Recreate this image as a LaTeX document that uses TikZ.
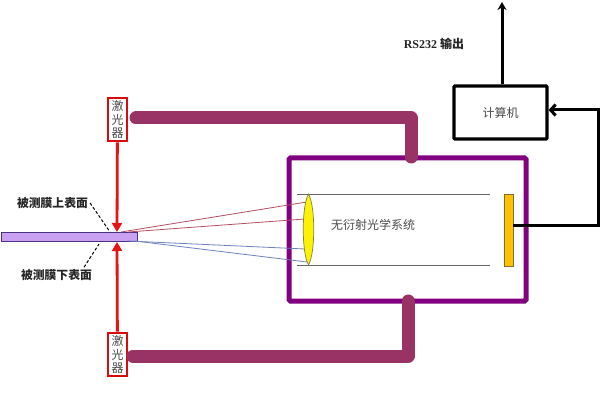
\documentclass[tikz,border=0pt]{standalone}
\usepackage{fontspec}
\setmainfont{Liberation Serif}
\newfontfamily\cjk{Noto Sans CJK SC}
\usetikzlibrary{arrows.meta}
\definecolor{tube}{HTML}{993366}
\definecolor{frameC}{HTML}{800080}
\definecolor{filmC}{HTML}{C9A0F2}
\definecolor{detC}{HTML}{FFC000}
\definecolor{lab}{HTML}{4A4A4A}
\tikzset{
  x=1pt,y=-1pt,
  laserbox/.style={draw={rgb,255:red,220;green,10;blue,10},line width=2.6pt,fill=white,minimum width=19pt,minimum height=43pt,inner sep=0pt,align=center,text=lab,font=\cjk\fontsize{12}{13.5}\selectfont},
  beam/.style={draw={rgb,255:red,230;green,20;blue,20},line width=2.8pt,-{Triangle[length=9pt,width=10pt]}},
  tubeline/.style={draw=tube,line width=13pt,line cap=round,line join=round},
  redray/.style={draw={rgb,255:red,180;green,80;blue,100},line width=0.8pt},
  blueray/.style={draw={rgb,255:red,110;green,130;blue,190},line width=0.8pt},
  wire/.style={draw=black,line width=3pt},
  lbl/.style={font=\cjk\bfseries\fontsize{11.8}{13}\selectfont,inner sep=0pt,text=black!85},
  plain/.style={font=\cjk\fontsize{12}{13}\selectfont,inner sep=0pt,text=lab},
  leader/.style={draw=black,line width=1pt,dashed,dash pattern=on 3pt off 2pt},
  tubeedge/.style={draw=black!60,line width=0.9pt}
}
\begin{document}
\begin{tikzpicture}
\useasboundingbox (0,0) rectangle (600,406);
\fill[white] (0,0) rectangle (600,406);
% optical housing
\node[draw=frameC,line width=5pt,rounded corners=1.5pt,minimum width=237pt,minimum height=143pt,inner sep=0pt] (housing) at (407.5,229.5) {};
\coordinate (tubeTL) at (297,194); \coordinate (tubeTR) at (490,194);
\coordinate (tubeBL) at (297,265); \coordinate (tubeBR) at (490,265);
\draw[tubeedge] (tubeTL) -- (tubeTR);
\draw[tubeedge] (tubeBL) -- (tubeBR);
% film
\node[draw={rgb,255:red,70;green,50;blue,130},line width=0.8pt,fill=filmC,minimum width=136pt,minimum height=9pt,inner sep=0pt] (film) at (69,236.5) {};
% rays
\coordinate (rayRa) at (121,232); \coordinate (rayRb) at (128,232);
\coordinate (rayBa) at (128,241); \coordinate (rayBb) at (135,241);
\coordinate (lensA) at (307,202); \coordinate (lensB) at (305,219);
\coordinate (lensC) at (305,249); \coordinate (lensD) at (307,262);
\draw[redray] (rayRa) -- (lensA);
\draw[redray] (rayRb) -- (lensB);
\draw[blueray] (rayBa) -- (lensC);
\draw[blueray] (rayBb) -- (lensD);
% lens and detector
\path[draw={rgb,255:red,130;green,130;blue,70},line width=0.7pt,fill=yellow] (308.5,194) .. controls (301.5,206) and (301.5,253) .. (308.5,265) .. controls (315.5,253) and (315.5,206) .. (308.5,194) -- cycle;
\node[draw={rgb,255:red,130;green,110;blue,40},line width=0.7pt,fill=detC,minimum width=9.5pt,minimum height=72pt,inner sep=0pt] (detector) at (509,230) {};
\node[plain] (systxt) at (373,225) {无衍射光学系统};
% lasers
\node[laserbox] (laserT) at (117.5,119.5) {激\\光\\器};
\node[laserbox] (laserB) at (117.5,354.5) {激\\光\\器};
\coordinate (beamT) at (117,232); \coordinate (beamB) at (117,242);
\draw[beam] (laserT) -- (beamT);
\draw[beam] (laserB) -- (beamB);
% laser feed tubes
\coordinate (feedTa) at (136,118); \coordinate (feedTb) at (411,118); \coordinate (feedTc) at (411,157);
\coordinate (feedBa) at (133,356); \coordinate (feedBb) at (408,356); \coordinate (feedBc) at (408,301);
\draw[tubeline] (feedTa) -- (feedTb) -- (feedTc);
\draw[tubeline] (feedBa) -- (feedBb) -- (feedBc);
% computer
\node[draw=black,line width=3.2pt,rounded corners=1pt,minimum width=93pt,minimum height=53pt,inner sep=0pt,font=\cjk\fontsize{12}{13}\selectfont,text=lab] (computer) at (500.5,112.5) {计算机};
\coordinate (outTop) at (502,2);
\draw[wire,-{Stealth[length=8pt,width=9pt]}] (computer.north -| outTop) -- (outTop);
\coordinate (sigA) at (513,226); \coordinate (sigB) at (598,226); \coordinate (sigC) at (598,110);
\draw[wire,-{Straight Barb[length=5pt,width=11pt]}] (sigA) -- (sigB) -- (sigC) -- (computer.east |- sigC);
% labels
\node[font=\bfseries\fontsize{12}{13}\selectfont,inner sep=0pt,text=black!85] (rs) at (434,44) {RS232 {\cjk 输出}};
\node[lbl] (upper) at (52.5,203) {被测膜上表面};
\node[lbl] (lower) at (56.5,275) {被测膜下表面};
\coordinate (upperEnd) at (110,232); \coordinate (lowerEnd) at (99,244);
\draw[leader] (upper.east) ++(2,0) -- (upperEnd);
\draw[leader] (lower.north east) ++(-8,-2) -- (lowerEnd);
\end{tikzpicture}
\end{document}
